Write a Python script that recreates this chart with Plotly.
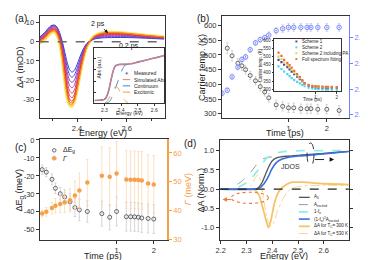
import math
import plotly.graph_objects as go

W, H = 368, 260
FONT = "Liberation Sans, Arial, sans-serif"


def fx(x):
    return x / W


def fy(y):
    return 1 - y / H


# ================= Panel (a): transient spectra =================
energy_a = [2.25, 2.27, 2.29, 2.30, 2.31, 2.32, 2.33, 2.34, 2.35, 2.36, 2.37, 2.38,
            2.39, 2.40, 2.41, 2.42, 2.44, 2.47, 2.50, 2.55, 2.60, 2.65, 2.70, 2.75]
da_s1 = [2.5, 4.8, 7.8, 8.6, 8.7, 7.6, 4.8, 0.5, -5.0, -10.5, -14.5, -15.8, -14.8, -12.0, -8.5, -5.2, -0.8, 1.4, 2.0, 2.2, 2.2, 2.0, 1.7, 1.4]
da_s2 = [2.2, 4.4, 7.4, 8.3, 8.4, 7.2, 4.2, -0.5, -6.8, -13.0, -17.2, -18.5, -17.2, -14.0, -10.0, -6.2, -1.0, 1.6, 2.4, 2.6, 2.6, 2.3, 2.0, 1.6]
da_s3 = [1.9, 4.0, 7.0, 7.9, 8.0, 6.8, 3.6, -1.5, -8.5, -15.5, -20.0, -21.2, -19.8, -16.0, -11.5, -7.2, -1.2, 1.9, 2.8, 3.0, 3.0, 2.6, 2.2, 1.8]
da_s4 = [1.6, 3.6, 6.6, 7.5, 7.6, 6.3, 3.0, -2.5, -10.2, -18.0, -22.8, -24.0, -22.4, -18.0, -13.0, -8.2, -1.4, 2.1, 3.2, 3.4, 3.3, 2.9, 2.4, 2.0]
da_s5 = [1.3, 3.2, 6.2, 7.1, 7.2, 5.8, 2.4, -3.5, -12.0, -20.5, -25.5, -26.8, -25.0, -20.0, -14.5, -9.2, -1.6, 2.3, 3.5, 3.8, 3.6, 3.1, 2.6, 2.1]
da_s6 = [1.0, 2.9, 5.8, 6.7, 6.8, 5.3, 1.8, -4.5, -13.8, -23.0, -28.0, -29.2, -27.2, -22.0, -16.0, -10.0, -1.8, 2.5, 3.8, 4.1, 3.9, 3.3, 2.8, 2.2]
da_s7 = [0.7, 2.6, 5.4, 6.3, 6.4, 4.8, 1.2, -5.5, -15.5, -25.0, -30.0, -31.0, -28.8, -23.5, -17.0, -10.8, -2.0, 2.7, 4.1, 4.4, 4.1, 3.5, 2.9, 2.3]
da_s8 = [0.3, 2.2, 5.0, 5.9, 6.0, 4.3, 0.6, -6.5, -17.0, -26.5, -31.2, -32.0, -29.8, -24.5, -17.8, -11.4, -2.2, 2.8, 4.3, 4.6, 4.3, 3.6, 3.0, 2.4]
da_s9 = [-0.2, 1.7, 4.5, 5.4, 5.5, 3.8, 0.0, -7.5, -18.5, -27.8, -32.2, -32.8, -30.5, -25.0, -18.4, -11.8, -2.4, 2.9, 4.5, 4.8, 4.4, 3.7, 3.1, 2.5]
da_s10 = [-0.8, 1.2, 4.0, 5.0, 5.0, 3.3, -0.6, -8.5, -19.8, -29.0, -33.0, -33.5, -31.0, -25.5, -18.8, -12.0, -2.5, 3.0, 4.7, 5.0, 4.5, 3.8, 3.1, 2.5]

# inset of (a)
energy_inset = [2.24, 2.27, 2.29, 2.30, 2.31, 2.32, 2.33, 2.34, 2.35, 2.36, 2.37, 2.38,
                2.40, 2.43, 2.46, 2.50, 2.54, 2.58, 2.62, 2.66]
abs_measured = [0.05, 0.055, 0.06, 0.07, 0.10, 0.17, 0.28, 0.42, 0.55, 0.64, 0.68, 0.695,
                0.70, 0.70, 0.71, 0.74, 0.77, 0.80, 0.83, 0.86]
abs_simulated = [0.05, 0.055, 0.062, 0.075, 0.11, 0.18, 0.29, 0.43, 0.555, 0.64, 0.68, 0.69,
                 0.70, 0.705, 0.715, 0.74, 0.77, 0.80, 0.83, 0.86]
energy_cont = [2.31, 2.33, 2.35, 2.37, 2.39, 2.41, 2.43, 2.46, 2.50, 2.55, 2.60, 2.66]
abs_continuum = [0.0, 0.03, 0.14, 0.30, 0.47, 0.62, 0.70, 0.72, 0.74, 0.77, 0.81, 0.86]
energy_exc = [2.30, 2.32, 2.34, 2.36, 2.37, 2.38, 2.40, 2.42, 2.44]
abs_excitonic = [0.0, 0.05, 0.17, 0.28, 0.30, 0.28, 0.17, 0.06, 0.01]

# ================= Panel (b) =================
time_b = [0.33, 0.36, 0.40, 0.43, 0.46, 0.50, 0.55, 0.60, 0.65, 0.70, 0.80, 0.90,
          1.0, 1.1, 1.25, 1.4, 1.5, 1.7, 2.0, 2.5]
temp_b = [523, 497, 472, 463, 450, 430, 412, 392, 374, 354, 330, 325,
          320, 320, 317, 317, 317, 315, 315, 311]
temp_b_err = [18, 18, 16, 16, 15, 14, 14, 14, 14, 15, 16, 16, 16, 16, 16, 16, 16, 16, 16, 16]
time_ef = [0.30, 0.33, 0.36, 0.40, 0.43, 0.46, 0.50, 0.55, 0.60, 0.65, 0.70, 0.80, 0.90,
           1.0, 1.1, 1.25, 1.4, 1.5, 1.7, 2.0, 2.5]
ef_b = [2.2766, 2.279, 2.2895, 2.297, 2.303, 2.305, 2.3106, 2.316, 2.3185, 2.320, 2.322,
        2.3255, 2.327, 2.328, 2.328, 2.328, 2.328, 2.328, 2.328, 2.328, 2.328]
ef_b_err = [0.002, 0.002, 0.002, 0.002, 0.002, 0.002, 0.002, 0.002, 0.002, 0.002, 0.0025,
            0.0025, 0.003, 0.003, 0.003, 0.003, 0.003, 0.003, 0.003, 0.003, 0.003]

time_b_inset = [0.30, 0.33, 0.36, 0.40, 0.43, 0.46, 0.50, 0.55, 0.60, 0.65, 0.70, 0.80,
                0.90, 1.0, 1.1, 1.25, 1.4, 1.5, 1.7, 2.0]
temp_scheme1 = [480, 466, 450, 436, 422, 408, 392, 377, 362, 349, 334, 322, 316, 313, 311, 310, 309, 309, 308, 308]
temp_scheme2 = [440, 424, 408, 392, 380, 368, 356, 345, 336, 327, 318, 310, 305, 302, 300, 299, 298, 298, 297, 297]
temp_scheme2_pa = [500, 484, 464, 448, 434, 418, 400, 384, 368, 352, 336, 325, 319, 316, 314, 313, 312, 312, 311, 311]
temp_full_fit = [525, 505, 480, 462, 448, 432, 412, 392, 375, 356, 338, 327, 321, 319, 317, 316, 315, 315, 314, 313]

# ================= Panel (c) =================
time_c = [0.25, 0.27, 0.30, 0.32, 0.35, 0.38, 0.42, 0.46, 0.50, 0.58, 0.76, 0.88,
          1.0, 1.2, 1.3, 1.4, 1.5, 1.6, 1.8, 2.0]
delta_eg = [-16.5, -17.9, -21.9, -26.9, -29.9, -31.7, -34.4, -37.6, -38.9, -39.8, -41.0, -43.0,
            -39.8, -42.7, -42.7, -42.8, -43.0, -43.4, -43.7, -44.0]
delta_eg_err = [2.5, 2.5, 3, 3, 3.5, 4, 4.5, 5, 6, 6, 7, 7, 8, 8, 8, 8, 8, 8, 8, 8]
gamma_c = [39.0, 39.6, 40.9, 41.7, 42.3, 42.9, 43.6, 45.3, 47.0, 49.8, 52.1, 51.8,
           52.9, 50.8, 50.7, 50.7, 50.6, 50.5, 49.4, 49.1]
gamma_c_err = [1.2, 1.5, 2, 2.5, 3, 3.5, 4, 5, 6, 8, 10, 10, 11, 10, 10, 10, 10, 10, 10, 10]

# ================= Panel (d) =================
energy_a0 = [2.20, 2.30, 2.33, 2.342, 2.361, 2.374, 2.387, 2.40, 2.419, 2.452, 2.503, 2.56, 2.62, 2.697]
abs_a0 = [0.0, 0.0, 0.005, 0.02, 0.18, 0.39, 0.59, 0.74, 0.82, 0.85, 0.88, 0.91, 0.94, 0.98]
energy_aexc = [2.20, 2.226, 2.258, 2.284, 2.31, 2.329, 2.348, 2.368, 2.40, 2.45, 2.50, 2.56, 2.62, 2.697]
abs_aexc = [0.0, 0.0, 0.1, 0.22, 0.39, 0.55, 0.71, 0.80, 0.84, 0.86, 0.88, 0.91, 0.94, 0.98]
energy_fe = [2.20, 2.245, 2.284, 2.316, 2.342, 2.361, 2.381, 2.406, 2.452, 2.516, 2.60, 2.697]
one_minus_fe = [0.0, 0.0, 0.1, 0.26, 0.47, 0.67, 0.82, 0.92, 0.98, 1.0, 1.0, 1.0]
energy_jdos = [2.20, 2.33, 2.348, 2.368, 2.385, 2.397, 2.413, 2.428, 2.452, 2.503, 2.606, 2.697]
abs_jdos = [0.0, 0.0, 0.02, 0.14, 0.33, 0.51, 0.67, 0.75, 0.81, 0.86, 0.92, 0.98]
energy_300k = [2.20, 2.31, 2.329, 2.348, 2.361, 2.374, 2.385, 2.395, 2.406, 2.419, 2.432, 2.452,
               2.477, 2.516, 2.606, 2.697]
da_300k = [0.0, 0.0, -0.01, -0.15, -0.43, -0.76, -1.0, -0.8, -0.43, -0.15, 0.0, 0.11,
           0.18, 0.18, 0.14, 0.12]
energy_530k = [2.20, 2.30, 2.32, 2.335, 2.345, 2.355, 2.365, 2.375, 2.385, 2.395, 2.405, 2.42,
               2.44, 2.46, 2.48, 2.52, 2.60, 2.697]
da_530k = [0.0, 0.0, 0.12, 0.3, 0.38, 0.2, -0.2, -0.6, -0.85, -0.97, -0.88, -0.58,
           -0.27, -0.06, 0.03, 0.08, 0.1, 0.1]

fig = go.Figure()

# ---- (a) main
spectra_a = [da_s1, da_s2, da_s3, da_s4, da_s5, da_s6, da_s7, da_s8, da_s9, da_s10]
colors_a = ["#2b3fd8", "#5a3ed0", "#8640c2", "#ac40a2", "#cf3d7c", "#e6344e",
            "#f0281e", "#f25414", "#f59018", "#f2dc48"]
for i in [9, 0, 1, 2, 3, 4, 5, 6, 7, 8]:
    fig.add_trace(go.Scatter(
        x=energy_a, y=spectra_a[i], mode="lines", xaxis="x", yaxis="y",
        line=dict(color=colors_a[i], width=3 if i == 9 else 1, shape="spline", smoothing=0.8),
        opacity=0.85 if i == 9 else 1, showlegend=False, hoverinfo="skip"))

# ---- (a) inset
fig.add_trace(go.Scatter(x=energy_cont, y=abs_continuum, mode="lines", xaxis="x2", yaxis="y2",
                         line=dict(color="#4a90e2", width=1, dash="dash", shape="spline"), showlegend=False))
fig.add_trace(go.Scatter(x=energy_exc, y=abs_excitonic, mode="lines", xaxis="x2", yaxis="y2",
                         line=dict(color="#f2a64a", width=1, dash="dash", shape="spline"), showlegend=False))
fig.add_trace(go.Scatter(x=energy_inset, y=abs_measured, mode="lines", xaxis="x2", yaxis="y2",
                         line=dict(color="#7a70b0", width=1.6, shape="spline"), showlegend=False))
fig.add_trace(go.Scatter(x=energy_inset, y=abs_simulated, mode="lines", xaxis="x2", yaxis="y2",
                         line=dict(color="#f08a78", width=0.9, shape="spline"), showlegend=False))

# ---- (b) main
fig.add_trace(go.Scatter(x=time_b, y=temp_b, mode="markers", xaxis="x3", yaxis="y3",
                         marker=dict(symbol="circle-open", size=4, color="#444", line=dict(width=0.8)),
                         error_y=dict(type="data", array=temp_b_err, color="#cccccc", thickness=0.8, width=1.2),
                         showlegend=False))
fig.add_trace(go.Scatter(x=time_ef, y=ef_b, mode="markers", xaxis="x3", yaxis="y4",
                         marker=dict(symbol="circle-open-dot", size=4.5, color="#6f80ff", line=dict(width=0.9)),
                         error_y=dict(type="data", array=ef_b_err, color="#c5cbe8", thickness=0.8, width=1.2),
                         showlegend=False))

# ---- (b) inset
inset_b_series = [(temp_scheme2, "#4fd6e6"), (temp_scheme1, "#5a3ea8"),
                  (temp_scheme2_pa, "#c8e04a"), (temp_full_fit, "#f26a3a")]
for vals, col in inset_b_series:
    fig.add_trace(go.Scatter(x=time_b_inset, y=vals, mode="markers", xaxis="x4", yaxis="y5",
                             marker=dict(symbol="square", size=2.2, color=col), showlegend=False))

# ---- (c)
fig.add_trace(go.Scatter(x=time_c, y=gamma_c, mode="markers", xaxis="x5", yaxis="y7",
                         marker=dict(symbol="circle", size=4.5, color="#f6a04a"),
                         error_y=dict(type="data", array=gamma_c_err, color="#fbd7b0", thickness=0.8, width=1.2),
                         showlegend=False))
fig.add_trace(go.Scatter(x=time_c, y=delta_eg, mode="markers", xaxis="x5", yaxis="y6",
                         marker=dict(symbol="circle-open", size=4, color="#444", line=dict(width=0.8)),
                         error_y=dict(type="data", array=delta_eg_err, color="#cccccc", thickness=0.8, width=1.2),
                         showlegend=False))

# ---- (d)
d_lines = [
    (energy_530k, da_530k, "#f8d490", 1, "dashdot"),
    (energy_300k, da_300k, "#f5c46a", 1.8, "solid"),
    (energy_aexc, abs_aexc, "#999999", 1, "dash"),
    (energy_fe, one_minus_fe, "#8af0ea", 1.8, "dash"),
    (energy_a0, abs_a0, "#555555", 1.3, "solid"),
    (energy_jdos, abs_jdos, "#3a6fe0", 1.6, "solid"),
]
for ex, ey, col, wd, ds in d_lines:
    fig.add_trace(go.Scatter(x=ex, y=ey, mode="lines", xaxis="x6", yaxis="y8",
                             line=dict(color=col, width=wd, dash=ds, shape="spline", smoothing=0.7),
                             showlegend=False))


def axis(**kw):
    base = dict(showline=True, linecolor="#333", linewidth=1, ticks="outside", ticklen=3,
                tickwidth=1, tickcolor="#333", showgrid=False, zeroline=False,
                tickfont=dict(size=7.5, family=FONT, color="#333"))
    base.update(kw)
    return base


small = dict(size=5, family=FONT, color="#333")
tiny = dict(size=4.5, family=FONT, color="#333")
BLUE = "#6f80ff"
ORANGE = "#f6a04a"

layout = dict(
    width=W, height=H, margin=dict(l=0, r=0, t=0, b=0),
    paper_bgcolor="white", plot_bgcolor="white", showlegend=False,
    font=dict(family=FONT, color="#333"),
    # (a)
    xaxis=axis(domain=[fx(28), fx(155)], range=[2.25, 2.755], tickvals=[2.4, 2.6],
               ticktext=["2.4", "2.6"], anchor="y", mirror=True,
               minor=dict(tickvals=[2.3, 2.5, 2.7], ticklen=2, ticks="outside", tickcolor="#333")),
    yaxis=axis(domain=[fy(109.3), fy(4)], range=[-39.5, 13.5], tickvals=[-30, -20, -10, 0, 10],
               ticktext=["-30", "-20", "-10", "0", "10"], anchor="x", mirror=True),
    # (a) inset
    xaxis2=axis(domain=[fx(83.3), fx(154)], range=[2.24, 2.66], tickvals=[2.3, 2.4, 2.5, 2.6],
                ticktext=["2.3", "2.4", "2.5", "2.6"], tickfont=small, ticklen=1.5,
                linewidth=0.8, anchor="y2", mirror=True),
    yaxis2=axis(domain=[fy(94.5), fy(37)], range=[0, 1.0], tickvals=[0.2, 0.4, 0.6, 0.8],
                showticklabels=False, ticks="inside", ticklen=1.5, linewidth=0.8,
                anchor="x2", mirror=True),
    # (b)
    xaxis3=axis(domain=[fx(212.3), fx(340.7)], type="log",
                range=[math.log10(0.30), math.log10(2.99)], tickvals=[1, 2], ticktext=["1", "2"],
                anchor="y3", mirror=True),
    yaxis3=axis(domain=[fy(109.3), fy(4)], range=[287, 633],
                tickvals=[300, 350, 400, 450, 500, 550, 600], anchor="x3"),
    yaxis4=axis(overlaying="y3", side="right", anchor="x3", range=[2.2578, 2.337],
                tickvals=[2.26, 2.28, 2.30, 2.32], ticktext=["2.26", "2.28", "2.30", "2.32"],
                linecolor=BLUE, tickcolor=BLUE, tickfont=dict(size=7.5, family=FONT, color=BLUE)),
    # (b) inset
    xaxis4=axis(domain=[fx(265), fx(333)], type="log",
                range=[math.log10(0.26), math.log10(2.32)], tickvals=[1, 2], ticktext=["1", "2"],
                tickfont=tiny, ticklen=1.5, linewidth=0.8, anchor="y5", mirror=True),
    yaxis5=axis(domain=[fy(82), fy(28)], range=[288, 608],
                tickvals=[300, 350, 400, 450, 500, 550, 600], tickfont=tiny, ticklen=1.5,
                linewidth=0.8, anchor="x4", mirror=True),
    # (c)
    xaxis5=axis(domain=[fx(28.3), fx(156.7)], type="log",
                range=[math.log10(0.24), math.log10(2.56)], tickvals=[1, 2], ticktext=["1", "2"],
                anchor="y6", mirror=True),
    yaxis6=axis(domain=[fy(235.7), fy(132)], range=[-55.4, 0.3],
                tickvals=[-50, -40, -30, -20, -10, 0],
                ticktext=["-50", "-40", "-30", "-20", "-10", "0"], anchor="x5"),
    yaxis7=axis(overlaying="y6", side="right", anchor="x5", range=[30, 64.7],
                tickvals=[30, 40, 50, 60], linecolor=ORANGE, tickcolor=ORANGE, linewidth=1.5,
                tickfont=dict(size=7.5, family=FONT, color=ORANGE)),
    # (d)
    xaxis6=axis(domain=[fx(210), fx(340.5)], range=[2.196, 2.697],
                tickvals=[2.2, 2.3, 2.4, 2.5, 2.6], ticktext=["2.2", "2.3", "2.4", "2.5", "2.6"],
                anchor="y8", mirror=True),
    yaxis8=axis(domain=[fy(235.7), fy(132.5)], range=[-1.31, 1.28],
                tickvals=[-1, -0.5, 0, 0.5, 1], ticktext=["-1.0", "-0.5", "0.0", "0.5", "1.0"],
                anchor="x6", mirror="ticks"),
)


def ann(text, x, y, size, color="#222", angle=0, xanchor="center", yanchor="middle"):
    return dict(text=text, x=fx(x), y=fy(y), xref="paper", yref="paper", showarrow=False,
                font=dict(size=size, family=FONT, color=color), textangle=angle,
                xanchor=xanchor, yanchor=yanchor)


annotations = [
    ann("(a)", 1, 7, 10, xanchor="left"),
    ann("(b)", 185, 7, 10, xanchor="left"),
    ann("(c)", 1, 140, 10, xanchor="left"),
    ann("(d)", 172, 136, 10, xanchor="left"),
    ann("Energy (eV)", 91.5, 125.5, 9),
    ann("Δ<i>A</i> (mOD)", 8, 57, 9, angle=-90),
    ann("Time (ps)", 276.5, 125.5, 9),
    ann("Carrier temp. (K)", 192, 57, 9, angle=-90),
    ann("<i>E</i><sub>f</sub> (eV)", 356.5, 60, 8.5, angle=-90),
    ann("Time (ps)", 92.5, 252.3, 9),
    ann("ΔE<sub>g</sub> (meV)", 8, 184, 9, angle=-90),
    ann("<i>Γ</i> (meV)", 177.5, 184, 9, color=ORANGE, angle=-90),
    ann("Energy (eV)", 275, 252.3, 9),
    ann("ΔA (Norm.)", 191, 184, 9, angle=-90),
    ann("Abs (Norm.)", 355, 184, 8.5, angle=-90),
    # inset (a)
    ann("Abs (a.u.)", 87.5, 58, 5, angle=-90),
    ann("Energy (eV)", 118.5, 104.5, 5),
    # inset (b)
    ann("Carrier temp. (K)", 251, 55, 4.5, angle=-90),
    ann("Time (ps)", 304, 91, 4.5),
    # (d) text
    dict(text="JDOS", x=2.47, y=0.6, xref="x6", yref="y8", showarrow=False,
         font=dict(size=7, family=FONT, color="#333")),
    # (a) delay labels with arrows
    dict(text="2 ps", x=2.525, y=4.5, ax=2.485, ay=9.5, xref="x", yref="y", axref="x", ayref="y",
         showarrow=True, arrowhead=2, arrowsize=0.8, arrowwidth=0.9, arrowcolor="#111",
         font=dict(size=7, family=FONT, color="#111")),
    dict(text="0.2 ps", x=2.562, y=0.3, ax=2.61, ay=-2.0, xref="x", yref="y", axref="x", ayref="y",
         showarrow=True, arrowhead=2, arrowsize=0.7, arrowwidth=0.8, arrowcolor="#111",
         font=dict(size=7, family=FONT, color="#111")),
    # (d) arrow heads
    dict(text="", x=2.64, y=0.77, ax=2.622, ay=0.77, xref="x6", yref="y8", axref="x6", ayref="y8",
         showarrow=True, arrowhead=2, arrowsize=0.9, arrowwidth=1, arrowcolor="#111"),
    dict(text="", x=2.207, y=-0.27, ax=2.222, ay=-0.27, xref="x6", yref="y8", axref="x6", ayref="y8",
         showarrow=True, arrowhead=2, arrowsize=0.9, arrowwidth=1, arrowcolor="#f07838"),
]

shapes = [
    # zero lines
    dict(type="line", xref="x domain", yref="y", x0=0, x1=1, y0=0, y1=0,
         line=dict(color="#6a6a6a", width=1.6, dash="dash"), layer="above"),
    dict(type="line", xref="x6 domain", yref="y8", x0=0, x1=1, y0=0, y1=0,
         line=dict(color="#222", width=1.1, dash="dash"), layer="above"),
    # (d) ellipses and arrows
    dict(type="circle", xref="x6", yref="y8", x0=2.535, x1=2.562, y0=0.6, y1=1.2,
         line=dict(color="#222", width=0.9, dash="dash"), layer="above"),
    dict(type="line", xref="x6", yref="y8", x0=2.566, x1=2.626, y0=0.77, y1=0.77,
         line=dict(color="#222", width=1, dash="dash"), layer="above"),
    dict(type="circle", xref="x6", yref="y8", x0=2.24, x1=2.385, y0=-0.37, y1=-0.08,
         line=dict(color="#f07838", width=1.1, dash="dot"), layer="above"),
    dict(type="line", xref="x6", yref="y8", x0=2.24, x1=2.218, y0=-0.27, y1=-0.27,
         line=dict(color="#f07838", width=1, dash="dash"), layer="above"),
]


def seg(x0, x1, y, color, width, dash="solid"):
    return dict(type="line", xref="paper", yref="paper", x0=fx(x0), x1=fx(x1), y0=fy(y), y1=fy(y),
                line=dict(color=color, width=width, dash=dash), layer="above")


def dot(x, y, r, color, fill=None):
    return dict(type="circle", xref="paper", yref="paper", x0=fx(x - r), x1=fx(x + r),
                y0=fy(y + r), y1=fy(y - r), line=dict(color=color, width=0.8),
                fillcolor=fill if fill else "rgba(0,0,0,0)", layer="above")


# legend of inset (a)
leg_a = [("Measured", "#6a6a9a", "solid"), ("Simulated Abs", "#f08a78", "solid"),
         ("Continuum", "#4a90e2", "dash"), ("Excitonic", "#f2a64a", "dash")]
for k, (txt, col, ds) in enumerate(leg_a):
    yy = 63.5 + 6.5 * k
    if k == 0:
        shapes.append(seg(114.5, 117.5, yy, col, 0.8))
        shapes.append(dict(type="line", xref="paper", yref="paper", x0=fx(116), x1=fx(116),
                           y0=fy(yy - 1.5), y1=fy(yy + 1.5), line=dict(color=col, width=0.8), layer="above"))
    else:
        shapes.append(seg(112, 119.5, yy, col, 1.1, ds))
    annotations.append(ann(txt, 121, yy, 5, xanchor="left"))

# legend of inset (b)
leg_b = [("Scheme 1", "#5a3ea8"), ("Scheme 2", "#4fd6e6"),
         ("Scheme 2 including PA", "#c8e04a"), ("Full spectrum fitting", "#f26a3a")]
for k, (txt, col) in enumerate(leg_b):
    yy = 30.5 + 6.1 * k
    shapes.append(dict(type="rect", xref="paper", yref="paper", x0=fx(286.5), x1=fx(288.5),
                       y0=fy(yy + 1), y1=fy(yy - 1), fillcolor=col, line=dict(width=0), layer="above"))
    annotations.append(ann(txt, 291, yy, 4.5, xanchor="left"))

# legend of (c)
shapes.append(dot(42.7, 143.3, 1.8, "#444"))
shapes.append(dot(42.7, 151.5, 2.0, ORANGE, ORANGE))
annotations.append(ann("ΔE<sub>g</sub>", 50, 143.3, 7, xanchor="left"))
annotations.append(ann("<i>Γ</i>", 50, 151.5, 7, xanchor="left"))

# legend of (d)
leg_d = [("A<sub>0</sub>", "#555555", 1.3, "solid"),
         ("A<sub>excited</sub>", "#999999", 1, "dash"),
         ("1-f<sub>e</sub>", "#8af0ea", 1.8, "dash"),
         ("(1-f<sub>e</sub>)<sup>2</sup>A<sub>excited</sub>", "#3a6fe0", 1.6, "solid"),
         ("ΔA for T<sub>C</sub>= 300 K", "#f5c46a", 1.8, "solid"),
         ("ΔA for T<sub>C</sub>= 530 K", "#f8d490", 1, "dashdot")]
for k, (txt, col, wd, ds) in enumerate(leg_d):
    yy = 192 + 7.5 * k
    shapes.append(seg(290, 301, yy, col, wd, ds))
    annotations.append(ann(txt, 303, yy, 4.5, xanchor="left"))

layout["annotations"] = annotations
layout["shapes"] = shapes
fig.update_layout(**layout)
fig.write_html("out.html")
